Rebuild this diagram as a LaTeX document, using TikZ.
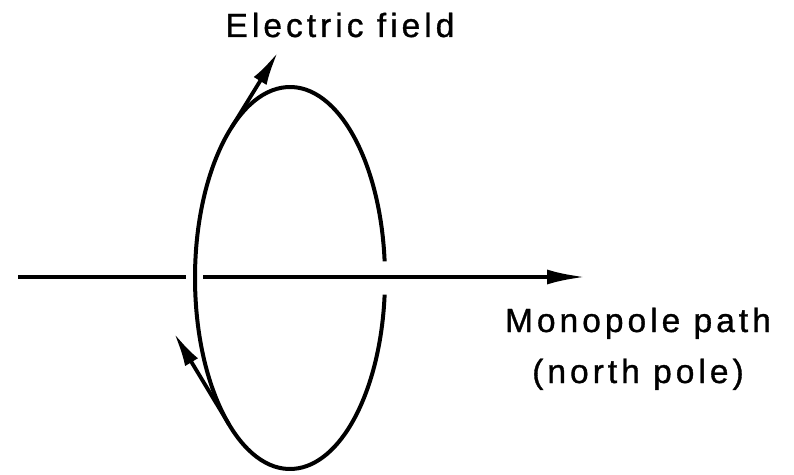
\documentclass[tikz,border=0pt]{standalone}
\usepackage{fontspec}
\setmainfont{Liberation Sans}
\newfontfamily\lettering[LetterSpace=12, FakeBold=1]{Liberation Sans}
\usepackage{tikz}
\usetikzlibrary{arrows.meta, calc}
\tikzset{
  loop/.style={line width=4pt},
  path line/.style={line width=3.8pt},
  field arrow/.style={line width=3.8pt, -{Latex[length=34pt, width=15pt]}},
  lbl/.style={inner sep=0pt, align=center, font=\lettering\fontsize{33.5}{51}\selectfont},
}

\begin{document}
\begin{tikzpicture}[x=1pt, y=1pt]
  \useasboundingbox (0,0) rectangle (794,474);
  \coordinate (C) at (290,196);
  % monopole path, broken where the loop passes in front
  \coordinate (start) at (18,197);
  \coordinate (gapL) at (186,197);
  \coordinate (gapR) at (203,197);
  \coordinate (tip) at (585,197);
  \draw[path line] (start) -- (gapL);
  \draw[path line, -{Latex[length=38pt, width=15pt]}] (gapR) -- (tip);
  % loop, broken behind the path on the right
  \draw[loop] ($(C)+(5:95 and 191)$) arc[start angle=5, end angle=355, x radius=95, y radius=191];
  % field arrows
  \coordinate (a1) at ($(C)+(128:95 and 191)$);
  \coordinate (a1tip) at (278,422);
  \coordinate (a2) at ($(C)+(230:95 and 191)$);
  \coordinate (a2tip) at (174,141);
  \draw[field arrow] (a1) -- (a1tip);
  \draw[field arrow] (a2) -- (a2tip);
  \node[lbl, anchor=base] (efield) at (340,437) {Electric field};
  \node[lbl, anchor=base] (mpath) at (638,91) {Monopole path\\(north pole)};
\end{tikzpicture}
\end{document}
